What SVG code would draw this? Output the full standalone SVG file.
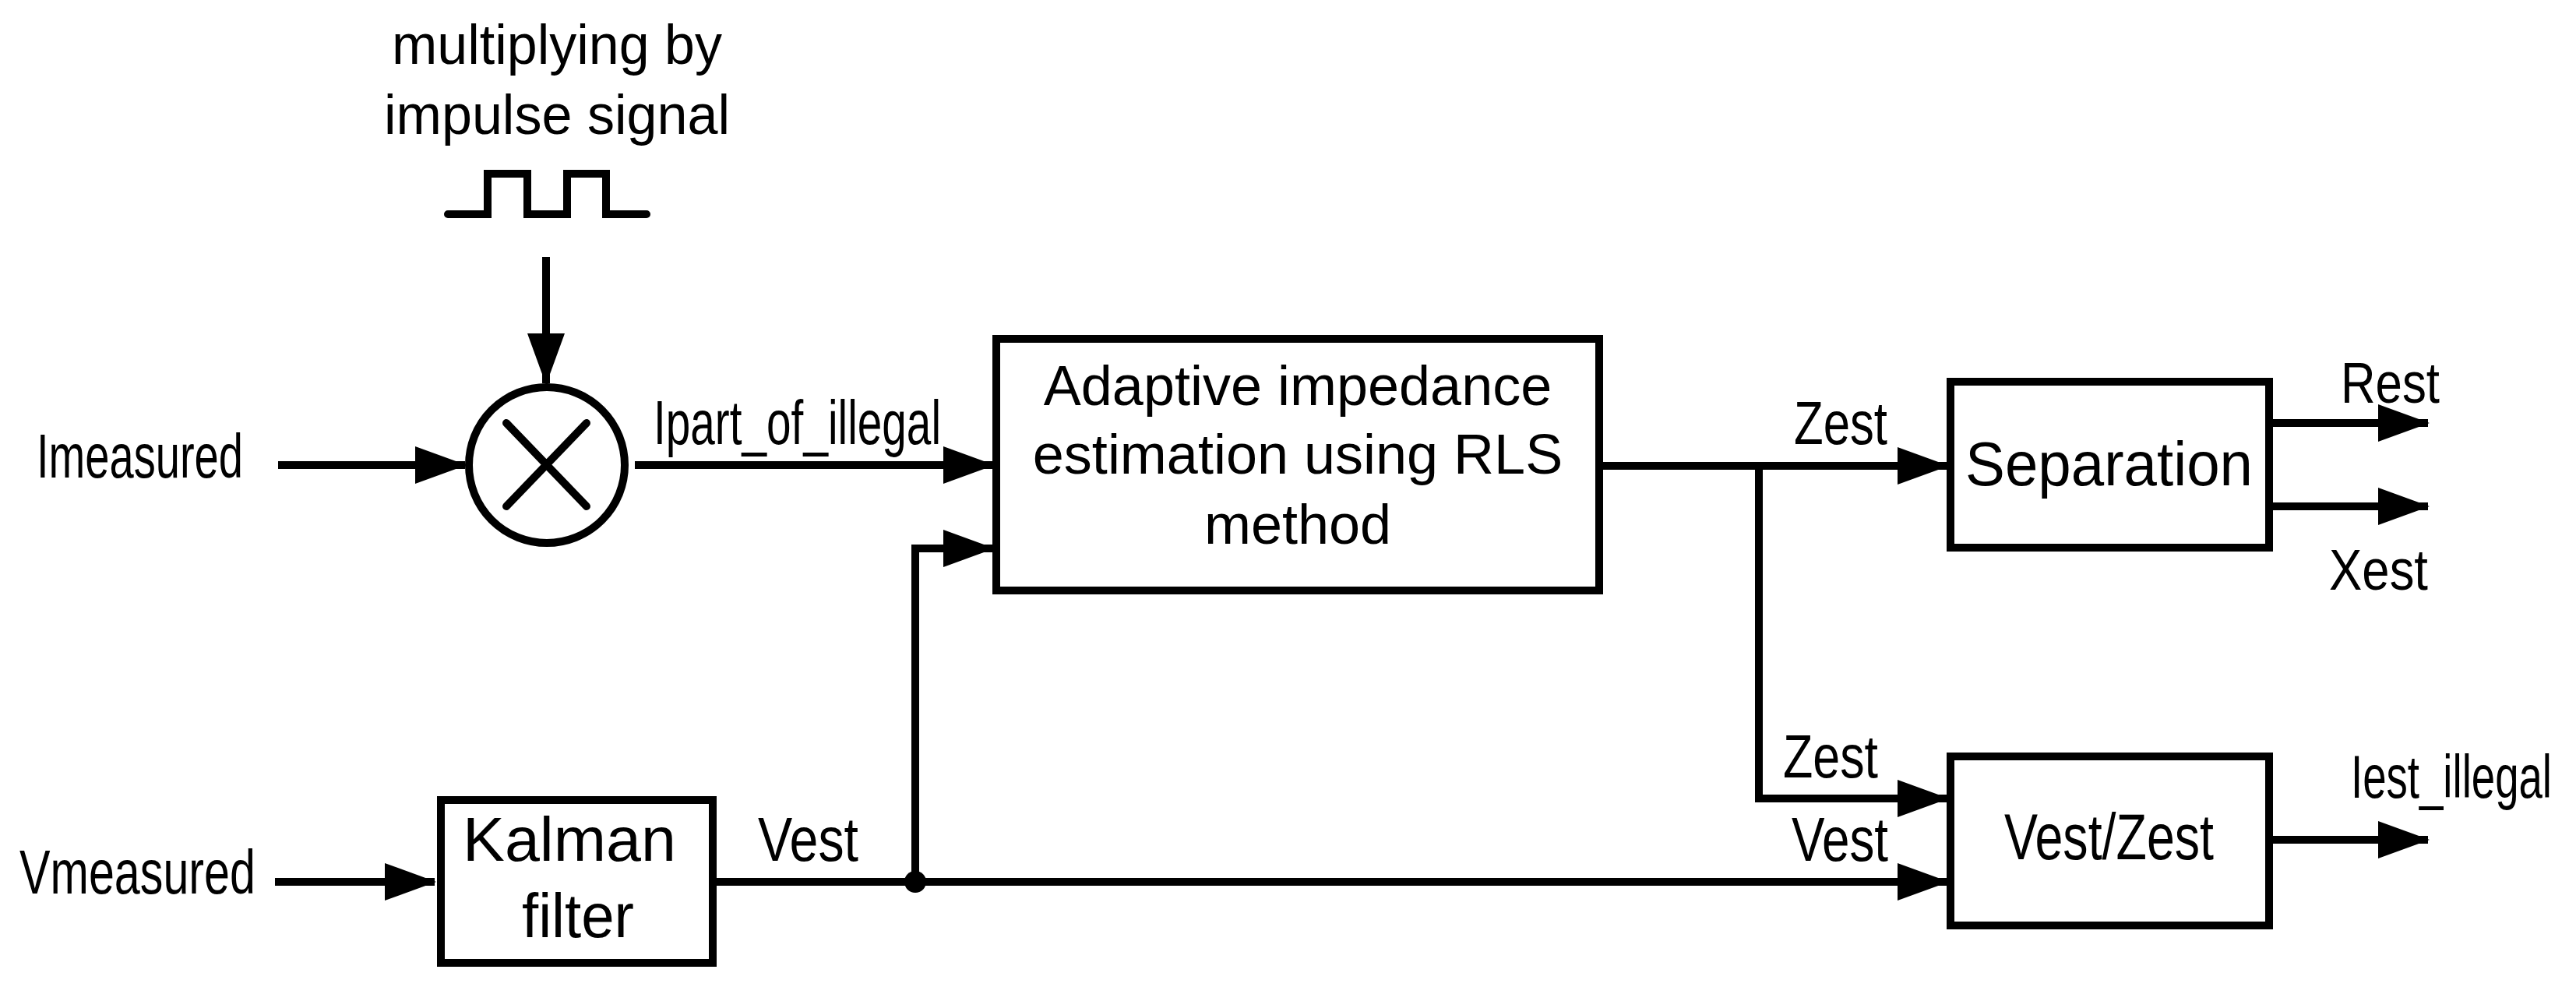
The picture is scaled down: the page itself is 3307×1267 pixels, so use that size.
<svg xmlns="http://www.w3.org/2000/svg" width="3307" height="1267" viewBox="0 0 3307 1267">
<style>
text{font-family:"Liberation Sans",Arial,sans-serif;fill:#000}
.box{fill:#fff;stroke:#000;stroke-width:10}
.ln{fill:none;stroke:#000;stroke-width:10;stroke-linejoin:miter}
.arr{fill:none;stroke:#000;stroke-width:10;marker-end:url(#ah)}
.c{text-anchor:middle}
</style>
<defs>
<marker id="ah" markerUnits="userSpaceOnUse" markerWidth="66" markerHeight="48" refX="64" refY="24" orient="auto" viewBox="0 0 66 48">
<path d="M0,0 L66,24 L0,48 Z" fill="#000"/>
</marker>
</defs>
<rect width="3307" height="1267" fill="#fff"/>
<g id="connectors">
<path class="arr" d="M357,597 H597"/>
<path class="arr" d="M701,330 V492"/>
<path class="arr" d="M815,597 H1275"/>
<path class="arr" d="M1175,1132 V704 H1275"/>
<path class="arr" d="M353,1132 H558"/>
<path class="arr" d="M919,1132 H2500"/>
<circle cx="1175" cy="1132" r="14" fill="#000"/>
<path class="arr" d="M2053,598 H2500"/>
<path class="arr" d="M2258,598 V1025 H2500"/>
<path class="arr" d="M2913,543 H3117"/>
<path class="arr" d="M2913,650 H3117"/>
<path class="arr" d="M2913,1078 H3117"/>
</g>
<g id="pulse">
<text x="503" y="82" font-size="72" textLength="424" lengthAdjust="spacingAndGlyphs">multiplying by</text>
<text x="493" y="172" font-size="72" textLength="444" lengthAdjust="spacingAndGlyphs">impulse signal</text>
<path class="ln" stroke-linecap="round" d="M575,275 H626 V223 H677 V275 H728 V223 H778 V275 H830"/>
</g>
<g id="multiplier">
<circle cx="702" cy="597" r="100" class="box"/>
<path class="ln" stroke-linecap="round" d="M650,543 L753,650 M753,543 L650,650"/>
</g>
<g id="inputs">
<text x="47" y="613" font-size="80" textLength="265" lengthAdjust="spacingAndGlyphs">Imeasured</text>
<text x="25" y="1147" font-size="80" textLength="303" lengthAdjust="spacingAndGlyphs">Vmeasured</text>
<text x="839" y="570" font-size="79" textLength="369" lengthAdjust="spacingAndGlyphs">Ipart_of_illegal</text>
<text x="973" y="1105" font-size="80" textLength="129" lengthAdjust="spacingAndGlyphs">Vest</text>
</g>
<g id="rls">
<rect class="box" x="1279" y="435" width="774" height="323"/>
<text class="c" x="1666" y="520" font-size="72">Adaptive impedance</text>
<text class="c" x="1666" y="608" font-size="72">estimation using RLS</text>
<text class="c" x="1666" y="698" font-size="72">method</text>
</g>
<g id="kalman">
<rect class="box" x="566" y="1027" width="349" height="209"/>
<text x="594" y="1105" font-size="80" textLength="274" lengthAdjust="spacingAndGlyphs">Kalman</text>
<text x="670" y="1203" font-size="80" textLength="144" lengthAdjust="spacingAndGlyphs">filter</text>
</g>
<g id="separation">
<rect class="box" x="2504" y="490" width="409" height="213"/>
<text x="2523" y="623" font-size="80" textLength="369" lengthAdjust="spacingAndGlyphs">Separation</text>
<text x="2303" y="570" font-size="78" textLength="120" lengthAdjust="spacingAndGlyphs">Zest</text>
<text x="3005" y="517" font-size="74" textLength="127" lengthAdjust="spacingAndGlyphs">Rest</text>
<text x="2990" y="757" font-size="74" textLength="127" lengthAdjust="spacingAndGlyphs">Xest</text>
</g>
<g id="divider">
<rect class="box" x="2504" y="971" width="409" height="217"/>
<text x="2573" y="1103" font-size="84" textLength="269" lengthAdjust="spacingAndGlyphs">Vest/Zest</text>
<text x="2289" y="998" font-size="78" textLength="122" lengthAdjust="spacingAndGlyphs">Zest</text>
<text x="2300" y="1105" font-size="80" textLength="124" lengthAdjust="spacingAndGlyphs">Vest</text>
<text x="3018" y="1024" font-size="78" textLength="258" lengthAdjust="spacingAndGlyphs">Iest_illegal</text>
</g>
</svg>
